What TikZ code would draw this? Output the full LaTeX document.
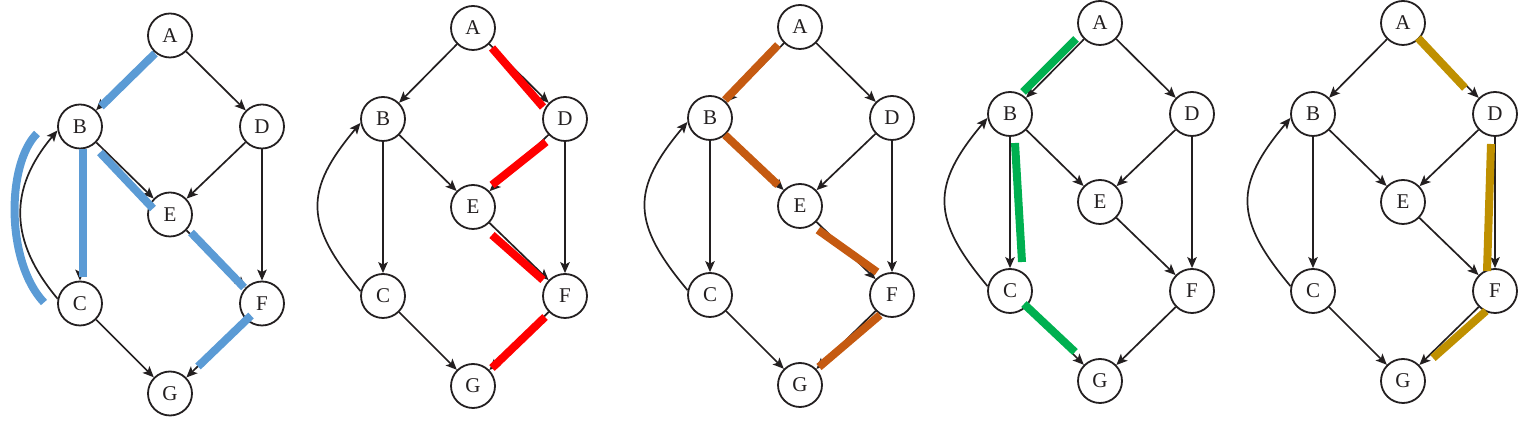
\documentclass[tikz,border=0pt]{standalone}
\usepackage{fontspec}
\setmainfont{Liberation Serif}
\usetikzlibrary{arrows.meta,calc}
\definecolor{edgecol}{HTML}{231F20}
\definecolor{hlblue}{HTML}{5B9BD5}
\definecolor{hlred}{HTML}{FF0000}
\definecolor{hlorange}{HTML}{C55A11}
\definecolor{hlgreen}{HTML}{00B050}
\definecolor{hlgold}{HTML}{BF9000}
\tikzset{
  vtx/.style={circle,draw=edgecol,fill=white,line width=1.8pt,minimum size=44pt,inner sep=0pt,
    font=\fontsize{21}{21}\selectfont,text=edgecol},
  edge/.style={draw=edgecol,line width=1.7pt,-{Stealth[length=11pt,width=9.5pt,inset=2.5pt]}},
  hl/.style={line width=8pt,line cap=butt},
}
\newcommand\drawdag[4]{%
  \begin{scope}[shift={(#2,#3)}]
    \node[vtx] (#1A) at (0,0) {A};
    \node[vtx] (#1B) at (-90,-91) {B};
    \node[vtx] (#1D) at (92,-91) {D};
    \node[vtx] (#1E) at (0,-179) {E};
    \node[vtx] (#1C) at (-90,-268) {C};
    \node[vtx] (#1F) at (92,-268) {F};
    \node[vtx] (#1G) at (0,-358) {G};
  \end{scope}
  \draw[edge] (#1A) -- (#1B);
  \draw[edge] (#1A) -- (#1D);
  \draw[edge] (#1B) -- (#1E);
  \draw[edge] (#1B) -- (#1C);
  \draw[edge] (#1D) -- (#1E);
  \draw[edge] (#1D) -- (#1F);
  \draw[edge] (#1E) -- (#1F);
  \draw[edge] (#1C) -- (#1G);
  \draw[edge] (#1F) -- (#1G);
  \draw[edge] (#1C.168) .. controls +(130:#4) and +(230:#4) .. (#1B.190);
}
\begin{document}
\begin{tikzpicture}[x=1pt,y=1pt]
\useasboundingbox (0,0) rectangle (1528,422);
\drawdag{a}{170}{386.5}{76}
\drawdag{b}{473}{394}{88}
\drawdag{c}{800}{395}{88}
\drawdag{d}{1100}{399}{88}
\drawdag{e}{1403}{399}{88}
% graph 1: blue
\draw[hl,hlblue] ($(aA)+(-15,-18)$) -- ($(aB)+(21,20)$);
\draw[hl,hlblue] ($(aB)+(3,-23)$) -- ($(aC)+(3,26)$);
\draw[hl,hlblue] ($(aC)+(-36,1)$) .. controls ($(aC)+(-74,41)$) and ($(aB)+(-74,-38)$) .. ($(aB)+(-43,-7)$);
\draw[hl,hlblue] ($(aB)+(20,-26)$) -- ($(aE)+(-17,6)$);
\draw[hl,hlblue] ($(aE)+(21,-18)$) -- ($(aF)+(-18,16)$);
\draw[hl,hlblue] ($(aF)+(-11,-12)$) -- ($(aG)+(28,27)$);
% graph 2: red
\draw[hl,hlred] ($(bA)+(19,-20)$) -- ($(bD)+(-22,12)$);
\draw[hl,hlred] ($(bD)+(-19,-23)$) -- ($(bE)+(19,22)$);
\draw[hl,hlred] ($(bE)+(19,-28)$) -- ($(bF)+(-22,16)$);
\draw[hl,hlred] ($(bF)+(-20,-21)$) -- ($(bG)+(19,18)$);
% graph 3: orange
\draw[hl,hlorange] ($(cA)+(-22,-18)$) -- ($(cB)+(15,18)$);
\draw[hl,hlorange] ($(cB)+(15,-17)$) -- ($(cE)+(-22,21)$);
\draw[hl,hlorange] ($(cE)+(18,-24)$) -- ($(cF)+(-15,23)$);
\draw[hl,hlorange] ($(cF)+(-12,-20)$) -- ($(cG)+(19,18)$);
% graph 4: green
\draw[hl,hlgreen] ($(dA)+(-24,-16)$) -- ($(dB)+(13,22)$);
\draw[hl,hlgreen] ($(dB)+(5,-29)$) -- ($(dC)+(12,29)$);
\draw[hl,hlgreen] ($(dC)+(14,-13)$) -- ($(dG)+(-25,29)$);
% graph 5: gold
\draw[hl,hlgold] ($(eA)+(15,-15)$) -- ($(eD)+(-30,26)$);
\draw[hl,hlgold] ($(eD)+(-4,-30)$) -- ($(eF)+(-8,20)$);
\draw[hl,hlgold] ($(eF)+(-9,-20)$) -- ($(eG)+(30,23)$);
\end{tikzpicture}
\end{document}
